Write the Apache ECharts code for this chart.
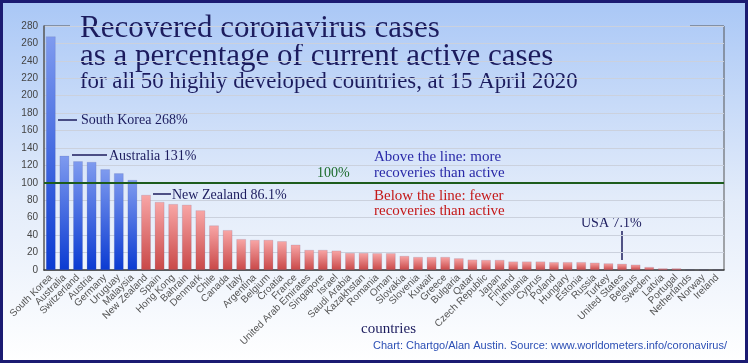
<!DOCTYPE html>
<html><head><meta charset="utf-8">
<script src="https://cdn.jsdelivr.net/npm/echarts@6/dist/echarts.min.js"></script>
<style>html,body{margin:0;padding:0;}#c{width:748px;height:363px;}</style>
</head><body><div id="c"></div>
<script>
const countries = ["South Korea","Australia","Switzerland","Austria","Germany","Uruguay","Malaysia","New Zealand","Spain","Hong Kong","Bahrain","Denmark","Chile","Canada","Italy","Argentina","Belgium","Croatia","France","United Arab Emirates","Singapore","Israel","Saudi Arabia","Kazakhstan","Romania","Oman","Slovakia","Slovenia","Kuwait","Greece","Bulgaria","Qatar","Czech Republic","Japan","Finland","Lithuania","Cyprus","Poland","Hungary","Estonia","Russia","Turkey","United States","Belarus","Sweden","Latvia","Portugal","Netherlands","Norway","Ireland"];
const recoveredPct = [268,131,124.7,123.9,115.5,110.9,103.2,86.1,78,75.6,74.8,68.4,51.1,45.7,35.4,34.5,34.5,33,29,23,23,22.2,19.5,19.5,19.2,19.2,16.1,14.9,14.9,14.9,13.4,11.9,11.5,11.5,9.7,9.7,9.7,9,9,9,8.4,7.6,7.1,6.1,3.4,1.9,1.9,0.4,0.4,0.2];
const yTicks = {min:0, max:280, interval:20};
const titleLines = ["Recovered coronavirus cases","as a percentage of current active cases","for all 50 highly developed countries, at 15 April 2020"];

const chart = echarts.init(document.getElementById('c'), null, {renderer:'canvas'});
const serif = "'Liberation Serif', 'DejaVu Serif', serif";
const navy = '#1c1c5e';
const G = {left:44, right:24, top:26, bottom:93};
const W = 748, H = 363;

function barColor(p){
  if (p.value > 100) {
    return new echarts.graphic.LinearGradient(0,0,0,1,[{offset:0,color:'#7f9bef'},{offset:1,color:'#0b3bd2'}]);
  }
  return new echarts.graphic.LinearGradient(0,0,0,1,[{offset:0,color:'#f8a6a6'},{offset:1,color:'#c94848'}]);
}

const option = {
  animation:false,
  backgroundColor: new echarts.graphic.LinearGradient(0,0,0,1,[{offset:0,color:'#a9c7f6'},{offset:0.55,color:'#e3ecfa'},{offset:1,color:'#ffffff'}]),
  grid:{left:G.left,right:G.right,top:G.top,bottom:G.bottom,containLabel:false,outerBoundsMode:'none'},
  xAxis:{type:'category',data:countries,
    axisLine:{lineStyle:{color:'#333',width:1.5}},
    axisTick:{show:false},
    axisLabel:{interval:0,rotate:45,fontSize:10,color:'#555',fontFamily:"'Liberation Sans', sans-serif",margin:6}
  },
  yAxis:{type:'value',min:yTicks.min,max:yTicks.max,interval:yTicks.interval,
    axisLine:{show:true,lineStyle:{color:'#555',width:1.5}},
    axisTick:{show:false},
    axisLabel:{fontSize:10,color:'#444',fontFamily:"'Liberation Sans', sans-serif",margin:6},
    splitLine:{lineStyle:{color:'#cbd1dd',width:1}}
  },
  series:[{type:'bar',data:recoveredPct,barCategoryGap:'30%',
    itemStyle:{color:barColor,borderColor:'rgba(60,60,120,0.25)',borderWidth:0.5},
    markLine:{silent:true,symbol:['none','none'],label:{show:false},
      lineStyle:{color:'#1d5c1d',width:2,type:'solid'},data:[{yAxis:100}]}
  }],
  graphic:[
    {type:'rect',shape:{x:1.5,y:1.5,width:W-3,height:H-3},style:{fill:'none',stroke:'#1b1b72',lineWidth:3},z:100},
    {type:'line',shape:{x1:G.left,y1:G.top,x2:70,y2:G.top},style:{stroke:'#555',lineWidth:1}},
    {type:'line',shape:{x1:690,y1:G.top,x2:W-G.right,y2:G.top},style:{stroke:'#555',lineWidth:1}},
    {type:'line',shape:{x1:W-G.right,y1:G.top,x2:W-G.right,y2:H-G.bottom},style:{stroke:'#555',lineWidth:1}},
    {type:'text',left:80,top:13,style:{text:titleLines[0],font:"31px "+serif,fill:navy}},
    {type:'text',left:80,top:41,style:{text:titleLines[1],font:"31px "+serif,fill:navy}},
    {type:'text',left:80,top:71,style:{text:titleLines[2],font:"22.8px "+serif,fill:navy}},
    {type:'line',shape:{x1:58,y1:120,x2:77,y2:120},style:{stroke:navy,lineWidth:1.5}},
    {type:'text',left:81,top:113,style:{text:'South Korea 268%',font:"14px "+serif,fill:navy}},
    {type:'line',shape:{x1:72,y1:155,x2:107,y2:155},style:{stroke:navy,lineWidth:1.5}},
    {type:'text',left:109,top:149,style:{text:'Australia 131%',font:"14px "+serif,fill:navy}},
    {type:'line',shape:{x1:153,y1:194,x2:171,y2:194},style:{stroke:navy,lineWidth:1.5}},
    {type:'text',left:172,top:188,style:{text:'New Zealand 86.1%',font:"14px "+serif,fill:navy}},
    {type:'text',left:581,top:216,style:{text:'USA 7.1%',font:"14px "+serif,fill:navy}},
    {type:'line',shape:{x1:622,y1:231,x2:622,y2:260},style:{stroke:navy,lineWidth:1.5}},
    {type:'text',left:317,top:166,style:{text:'100%',font:"14px "+serif,fill:'#1b6b2b'}},
    {type:'text',left:374,top:150,style:{text:'Above the line: more',font:"15px "+serif,fill:'#2a2aa8'}},
    {type:'text',left:374,top:166,style:{text:'recoveries than active',font:"15px "+serif,fill:'#2a2aa8'}},
    {type:'text',left:374,top:189,style:{text:'Below the line: fewer',font:"15px "+serif,fill:'#c41818'}},
    {type:'text',left:374,top:204,style:{text:'recoveries than active',font:"15px "+serif,fill:'#c41818'}},
    {type:'text',left:361,top:322,style:{text:'countries',font:"15px "+serif,fill:navy}},
    {type:'text',right:21,top:340,style:{text:'Chart: Chartgo/Alan Austin. Source: www.worldometers.info/coronavirus/',font:"11px 'Liberation Sans', sans-serif",fill:'#2c4fb5'}}
  ]
};
chart.setOption(option);
</script></body></html>
